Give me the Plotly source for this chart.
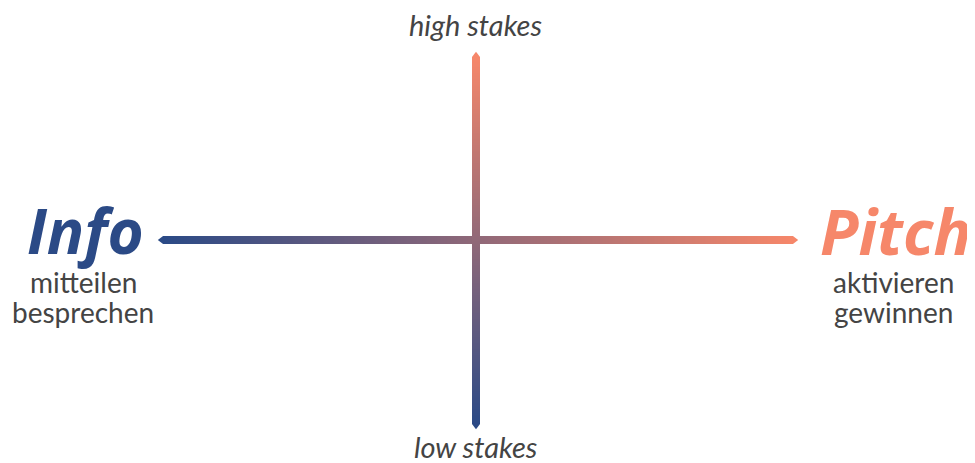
import plotly.graph_objects as go

# --- data ---
pole_left = "Info"
pole_right = "Pitch"
left_sub = ["mitteilen", "besprechen"]
right_sub = ["aktivieren", "gewinnen"]
top_label = "high stakes"
bottom_label = "low stakes"
h_line_x = [159, 797]      # horizontal axis extent incl. tips (page pixel coords)
h_line_y = 240
v_line_y = [53, 428]       # vertical axis extent incl. tips
v_line_x = 476

NAVY = "#2b4a86"
SALMON = "#f6876a"
GREY = "#444444"
HEAD_FONT = "Open Sans"
FONT = "Lato"
W, H = 975, 463
OFF = 8     # default page (body) margin: figure sits 8px in from the top-left
TH = 8      # bar thickness
TIP = 4     # tip length


def fx(v):  # page x -> figure domain fraction
    return (v - OFF) / W


def fy(v):  # page y -> figure domain fraction (from bottom)
    return (H - (v - OFF)) / H


fig = go.Figure()

# horizontal gradient bar, clipped by its own subplot domain
hx0, hx1 = h_line_x[0] + TIP, h_line_x[1] - TIP
fig.add_trace(go.Heatmap(
    x=[0, 1], y=[0, 1], z=[[0, 1], [0, 1]], zsmooth="best",
    colorscale=[[0, NAVY], [1, SALMON]], showscale=False, hoverinfo="skip",
    xaxis="x2", yaxis="y2"))
# vertical gradient bar
vy0, vy1 = v_line_y[0] + TIP, v_line_y[1] - TIP
fig.add_trace(go.Heatmap(
    x=[0, 1], y=[0, 1], z=[[0, 0], [1, 1]], zsmooth="best",
    colorscale=[[0, NAVY], [1, SALMON]], showscale=False, hoverinfo="skip",
    xaxis="x3", yaxis="y3"))

# pointed tips (triangle base = bar thickness)
fig.add_trace(go.Scatter(
    x=[hx0 - 1.7, hx1 + 1.7, v_line_x, v_line_x],
    y=[h_line_y, h_line_y, vy0 - 1.7, vy1 + 1.7],
    mode="markers",
    marker=dict(symbol=["triangle-left", "triangle-right", "triangle-up", "triangle-down"],
                size=7, color=[NAVY, SALMON, SALMON, NAVY], line=dict(width=0)),
    hoverinfo="skip", showlegend=False))

ann = []
ann.append(dict(x=85, y=230, text="<b><i>" + pole_left + "</i></b>",
                font=dict(family=HEAD_FONT, size=62, color=NAVY)))
ann.append(dict(x=895, y=230, text="<b><i>" + pole_right + "</i></b>",
                font=dict(family=HEAD_FONT, size=63, color=SALMON)))
for i, t in enumerate(left_sub):
    ann.append(dict(x=83, y=282 + 30 * i, text=t,
                    font=dict(family=FONT, size=28, color=GREY)))
for i, t in enumerate(right_sub):
    ann.append(dict(x=893, y=282 + 30 * i, text=t,
                    font=dict(family=FONT, size=28, color=GREY)))
ann.append(dict(x=475, y=24, text="<i>" + top_label + "</i>",
                font=dict(family=FONT, size=29, color=GREY)))
ann.append(dict(x=475, y=446, text="<i>" + bottom_label + "</i>",
                font=dict(family=FONT, size=29, color=GREY)))
for a in ann:
    a.update(xref="x", yref="y", showarrow=False, xanchor="center", yanchor="middle",
             borderpad=0)

hidden = dict(visible=False, fixedrange=True)
fig.update_layout(
    width=W, height=H,
    margin=dict(l=0, r=0, t=0, b=0),
    paper_bgcolor="white", plot_bgcolor="rgba(0,0,0,0)",
    xaxis=dict(range=[OFF, OFF + W], **hidden),
    yaxis=dict(range=[OFF + H, OFF], **hidden),
    xaxis2=dict(domain=[fx(hx0), fx(hx1)], range=[0, 1], anchor="y2", **hidden),
    yaxis2=dict(domain=[fy(h_line_y + TH / 2), fy(h_line_y - TH / 2)],
                range=[0, 1], anchor="x2", **hidden),
    xaxis3=dict(domain=[fx(v_line_x - TH / 2), fx(v_line_x + TH / 2)],
                range=[0, 1], anchor="y3", **hidden),
    yaxis3=dict(domain=[fy(vy1), fy(vy0)], range=[0, 1], anchor="x3", **hidden),
    annotations=ann, showlegend=False,
)

fig.write_html("out.html")
